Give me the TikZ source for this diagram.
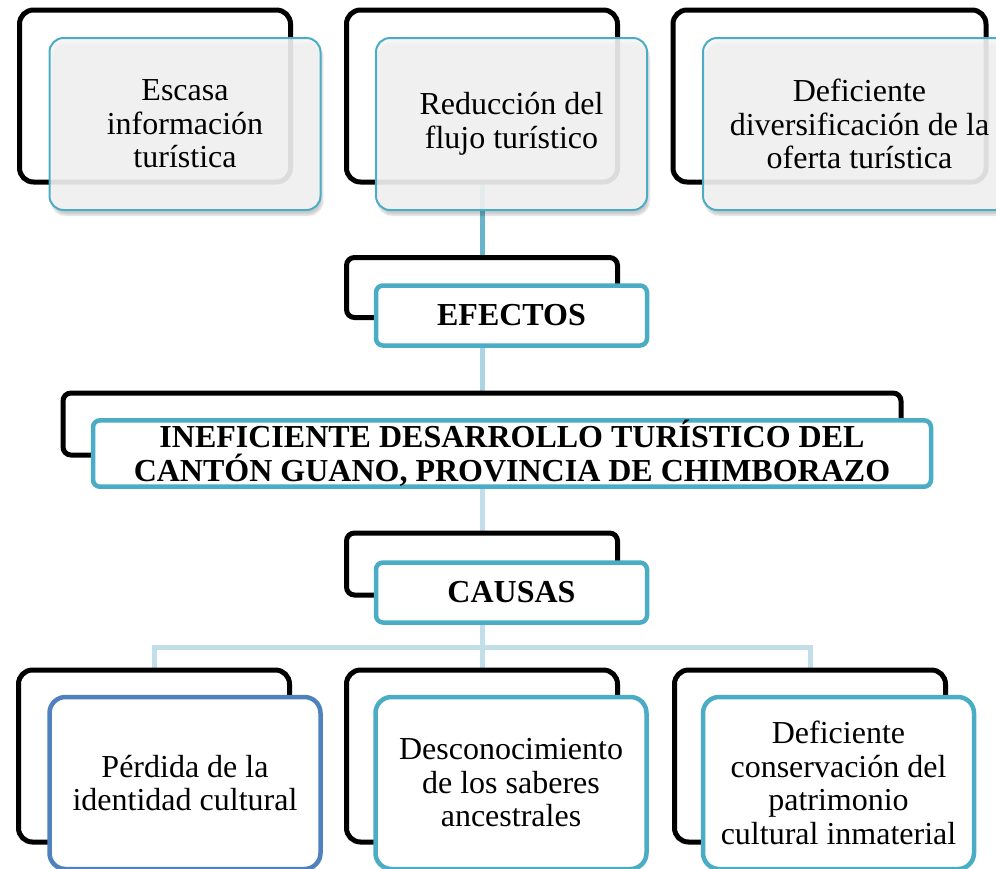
\documentclass[tikz,border=0pt]{standalone}
\usepackage{fontspec}
\setmainfont{Liberation Serif}
\usetikzlibrary{shadows.blur}
\definecolor{teal1}{RGB}{75,172,198}
\definecolor{steel}{RGB}{79,129,189}
\definecolor{conA}{RGB}{104,180,204}
\definecolor{conB}{RGB}{172,212,226}
\definecolor{conC}{RGB}{194,223,233}
\definecolor{pale}{RGB}{245,245,245}
\pgfdeclarelayer{bg}
\pgfsetlayers{bg,main}
\begin{document}
\begin{tikzpicture}[x=1pt,y=-1pt,
  backbox/.style={draw=black, line width=5pt, rounded corners=14pt, minimum width=271pt, minimum height=172pt, inner sep=0pt, outer sep=0pt},
  backsmall/.style={backbox, rounded corners=8pt, minimum height=60pt},
  effectbox/.style={draw=teal1, line width=2pt, fill=pale, fill opacity=0.9, text opacity=1, rounded corners=14pt, minimum width=271pt, minimum height=172pt, inner sep=0pt, outer sep=0pt, align=center, font=\fontsize{32}{33.5}\selectfont, blur shadow={shadow xshift=2pt, shadow yshift=-5pt, shadow opacity=22, shadow blur steps=6}},
  causebox/.style={draw=teal1, line width=4.5pt, fill=white, rounded corners=16pt, minimum width=271pt, minimum height=172pt, inner sep=0pt, outer sep=0pt, align=center, font=\fontsize{32}{33.5}\selectfont},
  headbox/.style={draw=teal1, line width=4.5pt, fill=white, rounded corners=7pt, minimum width=271pt, minimum height=60pt, inner sep=0pt, outer sep=0pt, align=center, font=\bfseries\fontsize{32}{34}\selectfont},
  conn/.style={line width=5pt}
]
\useasboundingbox (0,0) rectangle (996,868);
\clip (0,0) rectangle (996,868);

% back (black) boxes
\node[backbox] (bT1) at (155,96) {};
\node[backbox] (bT2) at (482,96) {};
\node[backbox, minimum width=313pt] (bT3) at (829.5,96) {};
\node[backsmall] (bEf) at (482,287.5) {};
\node[backsmall, minimum width=838pt, minimum height=62pt] (bTi) at (482,424) {};
\node[backsmall, minimum height=62pt] (bCa) at (482,564) {};
\node[backbox] (bB1) at (154,756) {};
\node[backbox] (bB2) at (482,756) {};
\node[backbox] (bB3) at (810,756) {};

% front boxes
\node[effectbox] (tT1) at (185,124) {Escasa\\información\\turística};
\node[effectbox] (tT2) at (511.5,124) {Reducción del\\flujo turístico};
\node[effectbox, minimum width=313pt] (tT3) at (859.5,124) {Deficiente\\diversificación de la\\oferta turística};
\node[headbox] (tEf) at (511.5,315.5) {EFECTOS};
\node[headbox, minimum width=838pt, minimum height=65pt] (tTi) at (512,453.5) {INEFICIENTE DESARROLLO TURÍSTICO DEL\\CANTÓN GUANO, PROVINCIA DE CHIMBORAZO};
\node[headbox] (tCa) at (511.5,592.5) {CAUSAS};
\node[causebox, draw=steel] (tB1) at (185,783) {Pérdida de la\\identidad cultural};
\node[causebox] (tB2) at (511,783) {Desconocimiento\\de los saberes\\ancestrales};
\node[causebox] (tB3) at (838.5,783) {Deficiente\\conservación del\\patrimonio\\cultural inmaterial};

% connectors
\coordinate (hub) at (482,647);
\begin{pgfonlayer}{bg}
\draw[conn, conA] (bT2.south) -- (bEf.north);
\draw[conn, conB] (bEf.south) -- (bTi.north);
\draw[conn, conC] (bTi.south) -- (bCa.north);
\draw[conn, conC] (bCa.south) -- (hub);
\draw[conn, conC] (hub) -| (bB1.north);
\draw[conn, conC] (hub) -- (bB2.north);
\draw[conn, conC] (hub) -| (bB3.north);
\end{pgfonlayer}
\end{tikzpicture}
\end{document}
